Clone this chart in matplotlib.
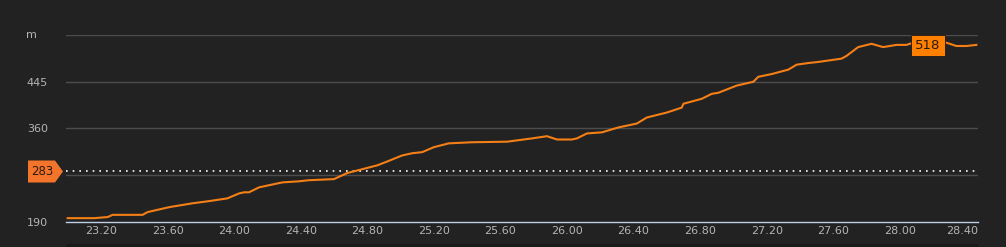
import matplotlib
matplotlib.use('Agg')
import matplotlib.pyplot as plt
from matplotlib.patches import Polygon, Rectangle
from matplotlib.transforms import ScaledTranslation

# distance (km) and elevation (m)
distance = [23.00, 23.07, 23.16, 23.24, 23.27, 23.36, 23.45, 23.48, 23.61, 23.75,
            23.85, 23.96, 24.03, 24.06, 24.09, 24.15, 24.29, 24.39, 24.45, 24.60,
            24.68, 24.77, 24.86, 24.92, 25.01, 25.07, 25.13, 25.20, 25.29, 25.43,
            25.64, 25.79, 25.88, 25.94, 26.03, 26.06, 26.12, 26.21, 26.31, 26.42,
            26.48, 26.60, 26.69, 26.70, 26.81, 26.87, 26.91, 27.02, 27.12, 27.15,
            27.23, 27.33, 27.38, 27.45, 27.51, 27.65, 27.68, 27.75, 27.83, 27.90,
            27.98, 28.04, 28.08, 28.17, 28.28, 28.34, 28.40, 28.46]
elevation = [197, 197, 197, 199, 203, 203, 203, 208, 217, 224,
             228, 233, 242, 244, 244, 253, 262, 264, 266, 268,
             279, 286, 293, 300, 311, 315, 317, 326, 333, 335,
             336, 342, 346, 340, 340, 342, 351, 353, 362, 369,
             380, 389, 398, 405, 414, 423, 425, 438, 445, 454,
             459, 467, 476, 479, 481, 487, 492, 508, 514, 508,
             512, 512, 516, 518, 516, 510, 510, 512]

y_ticks = [190, 275, 360, 445, 530]
y_tick_labels = ['190', '', '360', '445', '']
x_ticks = [23.2, 23.6, 24.0, 24.4, 24.8, 25.2, 25.6, 26.0, 26.4, 26.8, 27.2, 27.6, 28.0, 28.4]
start_elev = 283
max_elev = 518

BG = '#222222'
LINE = '#f57f17'
TEXT = '#b4b4b4'

W, H = 1006, 247
fig = plt.figure(figsize=(W / 100, H / 100), dpi=100, facecolor=BG)
ax = fig.add_axes([66 / W, 25 / H, 912 / W, 187 / H], facecolor=BG)

ax.set_xlim(22.99, 28.47)
ax.set_ylim(190, 530)

for yv in y_ticks[1:]:
    ax.axhline(yv, color='#4d4d4d', lw=1, zorder=1)

ax.axhline(start_elev, color='white', lw=1.2, ls=(0, (1, 3)), zorder=2)
ax.plot(distance, elevation, color=LINE, lw=1.5, zorder=3, solid_joinstyle='round')

for side in ['top', 'right', 'left']:
    ax.spines[side].set_visible(False)
ax.spines['bottom'].set_color('#bcd0e4')
ax.spines['bottom'].set_linewidth(1)

ax.set_yticks(y_ticks, y_tick_labels)
ax.set_xticks(x_ticks, [f'{v:.2f}' for v in x_ticks])
ax.tick_params(axis='y', length=0, pad=13, labelsize=8, labelcolor=TEXT)
ax.tick_params(axis='x', length=0, pad=3, labelsize=8, labelcolor=TEXT)
# last label nudged a little left, as in the original
last = ax.get_xticklabels()[-1]
last.set_transform(last.get_transform() + ScaledTranslation(-0.04, 0, fig.dpi_scale_trans))

# unit label
fig.text(26 / W, 1 - 35 / H, 'm', color=TEXT, fontsize=8, ha='left', va='center')

# start-elevation flag on the left
yc = 1 - 171.5 / H
flag = Polygon([(28 / W, yc + 11 / H), (55 / W, yc + 11 / H), (63 / W, yc),
                (55 / W, yc - 11 / H), (28 / W, yc - 11 / H)],
               closed=True, transform=fig.transFigure, facecolor='#f4742b',
               edgecolor='none', zorder=5)
fig.patches.append(flag)
fig.text(42 / W, yc, str(start_elev), color='#2a1a10', fontsize=8.5, ha='center',
         va='center', zorder=7)

# max-elevation box
i_max = elevation.index(max_elev)
ax.annotate(str(max_elev), (distance[i_max], elevation[i_max]), xytext=(0, -2.5),
            textcoords='offset points', ha='center', va='center', fontsize=9.5,
            color='#2a1a10', zorder=6,
            bbox=dict(boxstyle='square,pad=0.3', facecolor='#ff8000', edgecolor='#1a1a1a', lw=0.6))

# dark strip at the bottom
fig.patches.append(Rectangle((66 / W, 0), 912 / W, 3 / H, transform=fig.transFigure,
                             facecolor='#1a1a1a', edgecolor='none'))

fig.savefig('out.png', dpi=100, facecolor=BG)
